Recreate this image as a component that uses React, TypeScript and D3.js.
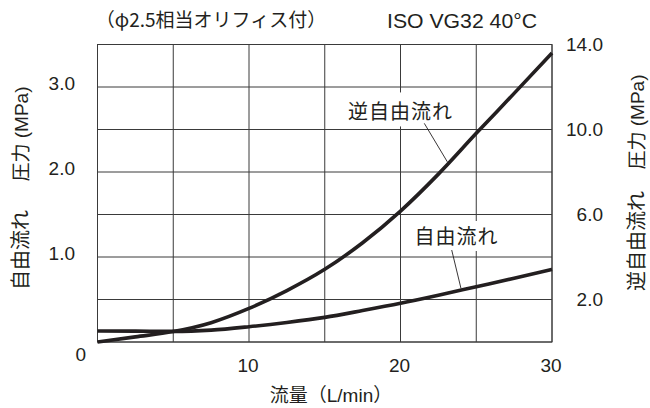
import React from "react";
import * as d3 from "d3";

const flow = [0, 2.5, 5, 7.5, 10, 12.5, 15, 17.5, 20, 22.5, 25, 27.5, 30];
const freeFlow = [0.13, 0.128, 0.125, 0.14, 0.18, 0.23, 0.29, 0.37, 0.455, 0.55, 0.65, 0.75, 0.855];
const reverseFlow = [0.0, 0.24, 0.49, 0.91, 1.58, 2.42, 3.42, 4.67, 6.16, 7.9, 9.82, 11.7, 13.6];

const xTicks = [10, 20, 30];
const xGrid = [0, 5, 10, 15, 20, 25, 30];
const leftGrid = [0, 0.5, 1, 1.5, 2, 2.5, 3, 3.5];
const leftTicks = [1, 2, 3];
const rightTicks = [2, 6, 10, 14];

const W = 650;
const H = 408;
const FONT = "'Liberation Sans', Arial, 'Noto Sans CJK JP', sans-serif";
const CJK = "'Noto Sans CJK JP', sans-serif";
const INK = "#231f20";

export default function App() {
  const x = d3.scaleLinear().domain([0, 30]).range([97.5, 552]);
  const yL = d3.scaleLinear().domain([0, 3.5]).range([342, 44.5]);
  const yR = d3.scaleLinear().domain([0, 14]).range([342, 44.5]);

  const freeLine = d3
    .line<number>()
    .x((_, i) => x(flow[i]))
    .y((d) => yL(d))
    .curve(d3.curveMonotoneX);
  const revLine = d3
    .line<number>()
    .x((_, i) => x(flow[i]))
    .y((d) => yR(d))
    .curve(d3.curveMonotoneX);

  // annotation anchors in data units
  const revLabel = { x: 20.0, y: 10.85 };
  const revLeader = [{ x: 21.57, y: 10.29 }, { x: 23.09, y: 8.48 }];
  const freeLabel = { x: 23.7, y: 1.247 };
  const freeLeader = [{ x: 23.38, y: 1.082 }, { x: 23.99, y: 0.632 }];

  const [x0, x1] = x.range();
  const [yb, yt] = yL.range();

  return (
    <svg
      width={W}
      height={H}
      style={{ position: "absolute", left: 0, top: 0, background: "#fff" }}
      fontFamily={FONT}
    >
      {/* grid */}
      <g stroke="#3a3a3a" strokeWidth={1} fill="none">
        {xGrid.map((v) => (
          <line key={"vx" + v} x1={x(v)} x2={x(v)} y1={yb} y2={yt} />
        ))}
        {leftGrid.map((v) => (
          <line key={"hy" + v} x1={x0} x2={x1} y1={yL(v)} y2={yL(v)} />
        ))}
        <rect x={x0} y={yt} width={x1 - x0} height={yb - yt} />
      </g>

      {/* label backgrounds */}
      <rect x={x(revLabel.x) - 56} y={yR(revLabel.y) - 19} width={112} height={34} fill="#fff" />
      <rect x={x(freeLabel.x) - 45} y={yL(freeLabel.y) - 15} width={90} height={30} fill="#fff" />

      {/* leaders */}
      <g stroke={INK} strokeWidth={0.9}>
        <line x1={x(revLeader[0].x)} y1={yR(revLeader[0].y)} x2={x(revLeader[1].x)} y2={yR(revLeader[1].y)} />
        <line x1={x(freeLeader[0].x)} y1={yL(freeLeader[0].y)} x2={x(freeLeader[1].x)} y2={yL(freeLeader[1].y)} />
      </g>

      {/* curves */}
      <path d={freeLine(freeFlow) || ""} fill="none" stroke={INK} strokeWidth={3.6} />
      <path d={revLine(reverseFlow) || ""} fill="none" stroke={INK} strokeWidth={3.6} />

      {/* curve labels */}
      <text x={x(revLabel.x)} y={yR(revLabel.y) + 7.5} textAnchor="middle" fontFamily={CJK} fontSize={20} letterSpacing={1} fill={INK}>
        逆自由流れ
      </text>
      <text x={x(freeLabel.x)} y={yL(freeLabel.y) + 7.5} textAnchor="middle" fontFamily={CJK} fontSize={20} letterSpacing={1} fill={INK}>
        自由流れ
      </text>

      {/* left ticks */}
      {leftTicks.map((v) => (
        <text key={"lt" + v} x={75} y={yL(v) + 2.5} textAnchor="end" fontSize={19} fill={INK}>
          {v.toFixed(1)}
        </text>
      ))}
      <text x={86} y={361} textAnchor="end" fontSize={19} fill={INK}>0</text>

      {/* right ticks */}
      {rightTicks.map((v) => (
        <text key={"rt" + v} x={603} y={yR(v)} dy="0.36em" textAnchor="end" fontSize={19} fill={INK}>
          {v.toFixed(1)}
        </text>
      ))}

      {/* x ticks */}
      {xTicks.map((v) => (
        <text key={"xt" + v} x={x(v) - 1} y={372} textAnchor="middle" fontSize={19} fill={INK}>
          {v}
        </text>
      ))}

      {/* x title */}
      <text x={331} y={402} textAnchor="middle" fontSize={19} fill={INK}>
        流量（L/min）
      </text>

      {/* top texts */}
      <text x={211} y={27} textAnchor="middle" fontFamily={CJK} fontSize={19} fill={INK}>
        （φ2.5相当オリフィス付）
      </text>
      <text x={387} y={28.3} fontSize={21} textLength={150} lengthAdjust="spacingAndGlyphs" fill={INK}>
        ISO VG32 40°C
      </text>

      {/* left axis title */}
      <g transform="translate(21,0)">
        <text transform="translate(0,250) rotate(-90)" textAnchor="middle" dy="0.35em" fontFamily={CJK} fontSize={20} fill={INK}>
          自由流れ
        </text>
        <text transform="translate(0,134) rotate(-90)" textAnchor="middle" dy="0.35em" fontSize={19} fill={INK}>
          圧力 (MPa)
        </text>
      </g>

      {/* right axis title */}
      <g transform="translate(637,0)">
        <text transform="translate(0,241) rotate(-90)" textAnchor="middle" dy="0.35em" fontFamily={CJK} fontSize={20} fill={INK}>
          逆自由流れ
        </text>
        <text transform="translate(0,122) rotate(-90)" textAnchor="middle" dy="0.35em" fontSize={19} fill={INK}>
          圧力 (MPa)
        </text>
      </g>
    </svg>
  );
}
